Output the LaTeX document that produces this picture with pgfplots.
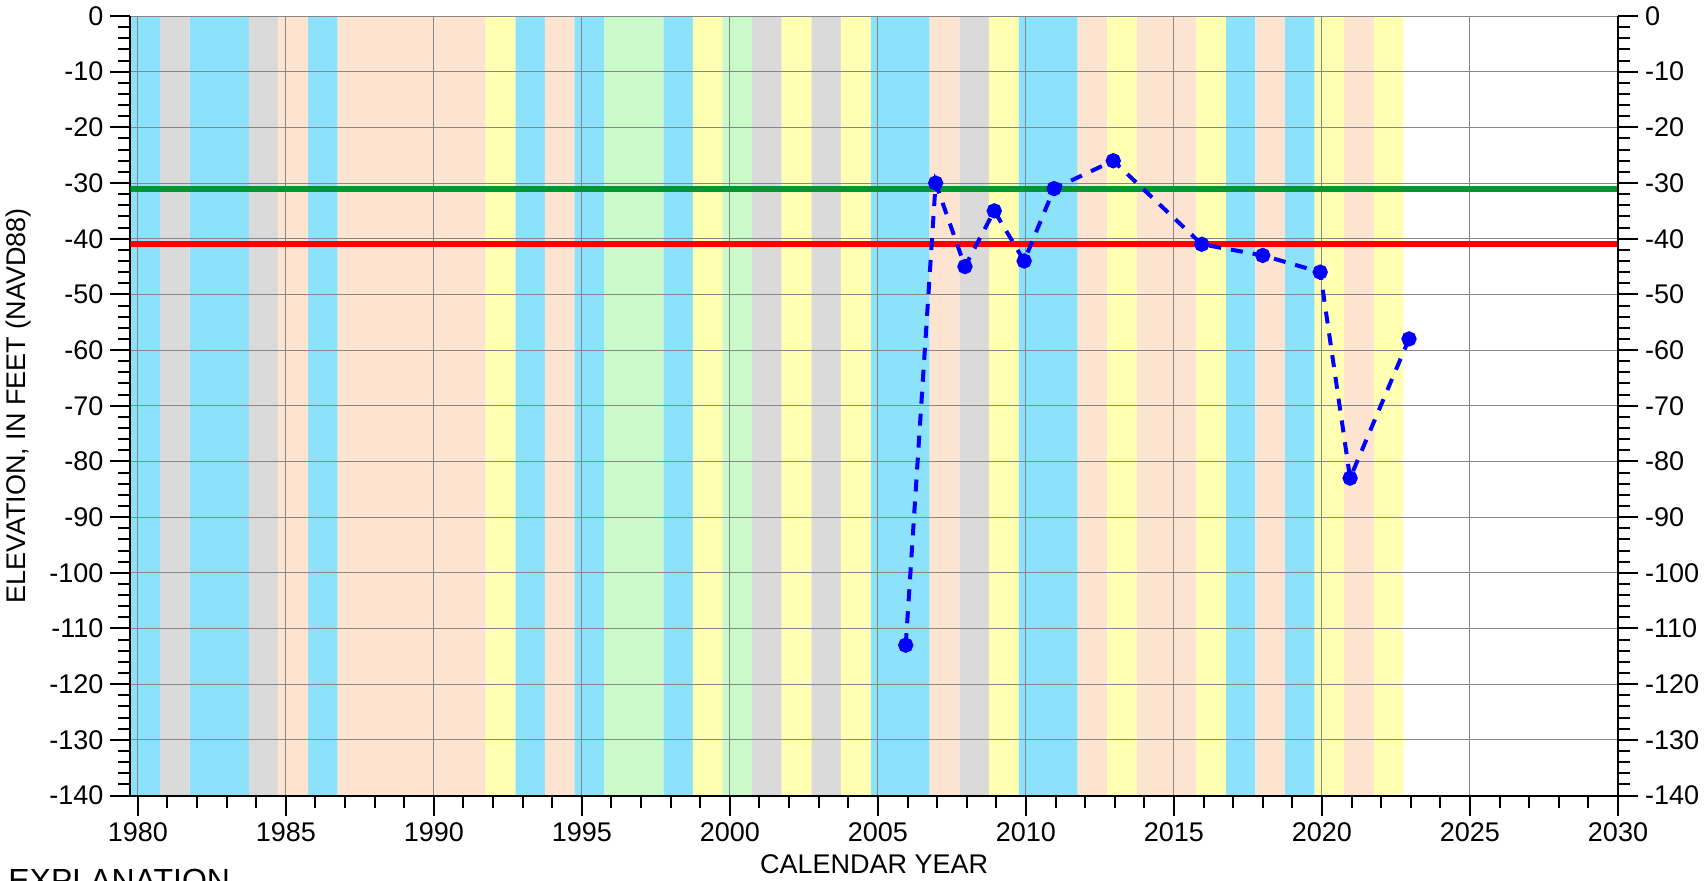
\documentclass[border=0pt]{standalone}
\usepackage{fontspec}
\setmainfont{Liberation Sans}
\usepackage{pgfplots}
\pgfplotsset{compat=1.18}

\definecolor{bandcyan}{RGB}{140,226,250}
\definecolor{bandgray}{RGB}{218,218,218}
\definecolor{bandpeach}{RGB}{253,228,208}
\definecolor{bandyellow}{RGB}{255,255,178}
\definecolor{bandgreen}{RGB}{202,250,202}
\definecolor{gridgray}{RGB}{135,135,135}
\definecolor{levgreen}{RGB}{0,150,50}

\newcommand{\lbl}{\fontsize{13.5}{16}\selectfont}

\pgfplotsset{
  wellaxis/.style={
    scale only axis, width=743.8pt, height=389.75pt,
    xmin=1979.75, xmax=2030, ymin=-140, ymax=0,
    tick align=outside, major tick length=10pt, minor tick length=6pt,
    tick style={black, line width=1pt},
    axis line style={-, black, line width=1pt},
    ytick={-140,-130,...,0}, minor y tick num=4,
    tick label style={font=\lbl},
    label style={font=\lbl},
    /pgf/number format/assume math mode=true,
    /pgf/number format/set thousands separator={},
  },
}

\begin{document}
\begin{tikzpicture}
\begin{axis}[wellaxis, name=ax, set layers,
  axis x line*=bottom, axis y line*=left,
  xtick={1980,1985,...,2030}, minor x tick num=4,
  grid=major, major grid style={gridgray, line width=0.5pt},
  xlabel={CALENDAR YEAR},
  xlabel style={at={(axis description cs:0.5,-0.088)}, anchor=center},
  ylabel={ELEVATION, IN FEET (NAVD88)},
  ylabel style={at={(axis description cs:-0.0753,0.5)}, anchor=center},
]
% year-type bands (water years, Oct-Sep): y=-140 starts a band, y=0 ends it
\addplot[ybar interval, fill=bandcyan, draw=none, on layer=axis background] coordinates {
  (1979.75,-140) (1980.75,0) (1981.75,-140) (1983.75,0) (1985.75,-140) (1986.75,0)
  (1992.75,-140) (1993.75,0) (1994.75,-140) (1995.75,0) (1997.75,-140) (1998.75,0)
  (2004.75,-140) (2006.75,0) (2009.75,-140) (2011.75,0) (2016.75,-140) (2017.75,0)
  (2018.75,-140) (2019.75,0)};
\addplot[ybar interval, fill=bandgray, draw=none, on layer=axis background] coordinates {
  (1980.75,-140) (1981.75,0) (1983.75,-140) (1984.75,0) (2000.75,-140) (2001.75,0)
  (2002.75,-140) (2003.75,0) (2007.75,-140) (2008.75,0)};
\addplot[ybar interval, fill=bandpeach, draw=none, on layer=axis background] coordinates {
  (1984.75,-140) (1985.75,0) (1986.75,-140) (1991.75,0) (1993.75,-140) (1994.75,0)
  (2006.75,-140) (2007.75,0) (2011.75,-140) (2012.75,0) (2013.75,-140) (2015.75,0)
  (2017.75,-140) (2018.75,0) (2020.75,-140) (2021.75,0)};
\addplot[ybar interval, fill=bandyellow, draw=none, on layer=axis background] coordinates {
  (1991.75,-140) (1992.75,0) (1998.75,-140) (1999.75,0) (2001.75,-140) (2002.75,0)
  (2003.75,-140) (2004.75,0) (2008.75,-140) (2009.75,0) (2012.75,-140) (2013.75,0)
  (2015.75,-140) (2016.75,0) (2019.75,-140) (2020.75,0) (2021.75,-140) (2022.75,0)};
\addplot[ybar interval, fill=bandgreen, draw=none, on layer=axis background] coordinates {
  (1995.75,-140) (1997.75,0) (1999.75,-140) (2000.75,0)};

% reference levels
\addplot[levgreen, line width=3pt] coordinates {(1979.75,-31) (2030,-31)};
\addplot[red, line width=3pt] coordinates {(1979.75,-41) (2030,-41)};

% measured water levels
\addplot[blue, line width=2pt, dash pattern=on 6pt off 5pt,
  mark=*, mark size=2.8pt, mark options={solid}] coordinates {
  (2005.94,-113) (2006.95,-30) (2007.94,-45) (2008.93,-35) (2009.94,-44)
  (2010.95,-31) (2012.95,-26) (2015.94,-41) (2018.0,-43) (2019.94,-46)
  (2020.95,-83) (2022.94,-58)};
\end{axis}

\begin{axis}[wellaxis, axis y line*=right, axis x line=none]
\end{axis}

\node[anchor=north west, inner sep=0, font=\fontsize{16}{19}\selectfont]
  at ([xshift=-61.2pt, yshift=-36.75pt]ax.south west) {EXPLANATION};

\pgfresetboundingbox
\path ([xshift=-65.2pt, yshift=-42.25pt]ax.south west)
  rectangle ([xshift=44pt, yshift=8pt]ax.north east);
\end{tikzpicture}
\end{document}
